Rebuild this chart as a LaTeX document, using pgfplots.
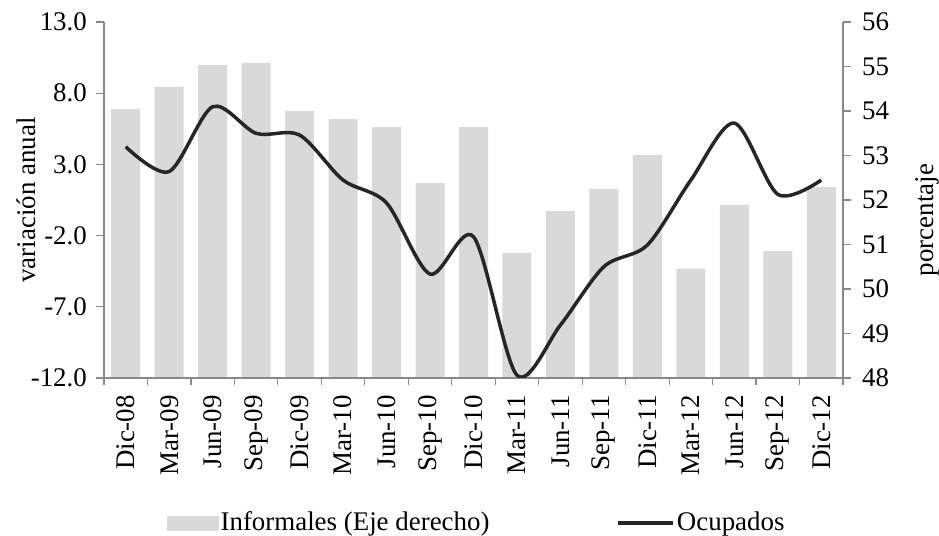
\documentclass[border=0pt]{standalone}
\usepackage{fontspec}
\setmainfont{Liberation Serif}
\usepackage{pgfplots}
\pgfplotsset{compat=1.18}
\definecolor{barc}{HTML}{D9D9D9}
\definecolor{linec}{HTML}{262626}
\definecolor{axc}{HTML}{898989}
\begin{document}
\fontsize{27}{32}\selectfont
\begin{tikzpicture}
\path[use as bounding box] (0,0) rectangle (939bp,536bp);
% bars on right axis
\begin{axis}[
  at={(104bp,158bp)}, anchor=south west,
  scale only axis, width=739bp, height=356bp,
  xmin=-0.5, xmax=16.5, ymin=48, ymax=56,
  axis x line=none,
  axis y line*=right,
  ytick={48,49,...,56},
  tick align=outside,
  major tick length=8bp,
  axis line style={axc, line width=1.2bp},
  tick style={axc, line width=1.2bp},
  yticklabel style={black, xshift=2bp},
  /pgf/number format/assume math mode=true,
  ybar, bar width=29bp,
]
\addplot[fill=barc, draw=none, bar shift=0pt] coordinates {
(0,54.04) (1,54.54) (2,55.03) (3,55.08) (4,54.00) (5,53.82) (6,53.64) (7,52.38) (8,53.64)
(9,50.81) (10,51.75) (11,52.25) (12,53.01) (13,50.46) (14,51.89) (15,50.85) (16,52.29)};
\end{axis}
% line on left axis
\begin{axis}[
  at={(104bp,158bp)}, anchor=south west,
  scale only axis, width=739bp, height=356bp,
  xmin=-0.5, xmax=16.5, ymin=-12, ymax=13,
  axis x line*=bottom,
  axis y line*=left,
  ytick={-12,-7,-2,3,8,13},
  yticklabel={\pgfmathprintnumber[fixed,fixed zerofill,precision=1]{\tick}},
  xtick={0,...,16},
  xticklabels={Dic-08,Mar-09,Jun-09,Sep-09,Dic-09,Mar-10,Jun-10,Sep-10,Dic-10,Mar-11,Jun-11,Sep-11,Dic-11,Mar-12,Jun-12,Sep-12,Dic-12},
  x tick label style={rotate=90, anchor=east, black},
  minor xtick={-0.5,0.5,...,16.5},
  tick align=outside,
  major tick length=8bp,
  minor tick length=7bp,
  xtick style={draw=none},
  minor x tick style={draw=axc, line width=1.2bp},
  ytick style={axc, line width=1.2bp},
  axis line style={axc, line width=1.2bp},
  yticklabel style={black},
  /pgf/number format/assume math mode=true,
  legend columns=2,
  legend style={at={(rel axis cs:0.0853,-0.407)}, anchor=west, draw=none, fill=none, inner sep=0pt,
    /tikz/every even column/.append style={column sep=125bp}},
]
\addlegendimage{legend image code/.code={\fill[barc] (0bp,-7bp) rectangle (51bp,7bp);}}
\addlegendentry{Informales (Eje derecho)}
\addplot[linec, line width=3.5bp, smooth, tension=0.5,
  legend image code/.code={\draw[linec, line width=3.5bp] (0bp,0bp) -- (55bp,0bp);}] coordinates {
(0,4.24) (1,2.5) (2,7.05) (3,5.18) (4,5.06) (5,1.9) (6,0.29) (7,-4.7) (8,-2.08)
(9,-11.8) (10,-8.28) (11,-4.18) (12,-2.66) (13,1.9) (14,5.9) (15,0.9) (16,1.9)};
\addlegendentry{Ocupados}
\end{axis}
\node[rotate=90] at (26bp,336bp) {variación anual};
\node[rotate=90] at (927bp,316bp) {porcentaje};
\end{tikzpicture}
\end{document}
